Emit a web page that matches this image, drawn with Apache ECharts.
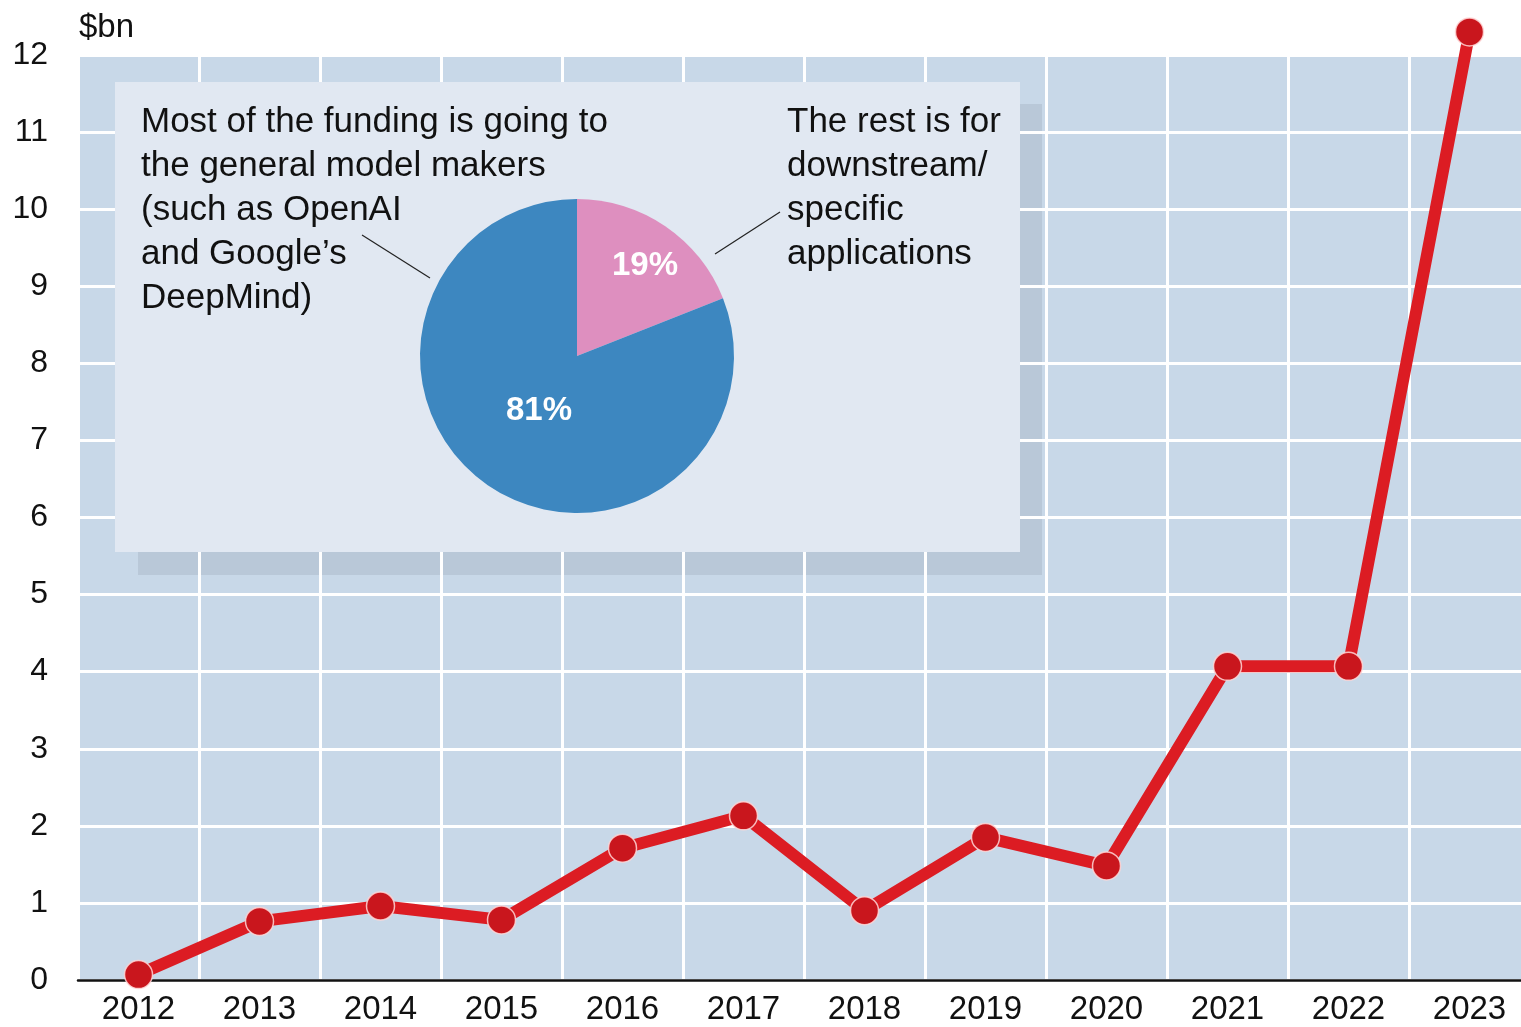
<!DOCTYPE html>
<html>
<head>
<meta charset="utf-8">
<script src="https://cdn.jsdelivr.net/npm/echarts@6/dist/echarts.min.js"></script>
<style>
  html, body { margin: 0; padding: 0; background: #fff; }
  #main { width: 1521px; height: 1027px; }
</style>
</head>
<body>
<div id="main"></div>
<script>
// years on the x axis
var years = ['2012', '2013', '2014', '2015', '2016', '2017', '2018', '2019', '2020', '2021', '2022', '2023'];
// funding, $bn
var funding = [0.07, 0.76, 0.96, 0.78, 1.71, 2.13, 0.9, 1.85, 1.48, 4.07, 4.07, 12.3];
// pie split, %
var shareNames = ['Downstream/specific applications', 'General model makers'];
var shareValues = [19, 81];
var shareColors = ['#de8fbf', '#3d87c0'];

var FONT = '"Liberation Sans", Arial, sans-serif';
var chart = echarts.init(document.getElementById('main'));

var pieCenter = [577, 356];
var pieRadius = 157;

var option = {
  backgroundColor: '#fff',
  animation: false,
  textStyle: { fontFamily: FONT },
  title: {
    text: '$bn',
    left: 74,
    top: 6,
    textStyle: { fontFamily: FONT, fontSize: 33, fontWeight: 'normal', color: '#111' }
  },
  grid: {
    left: 78,
    width: 1452, // runs a little past the right edge, like the original
    top: 55,
    bottom: 47,
    containLabel: false,
    outerBoundsMode: 'none',
    show: true,
    backgroundColor: '#c8d8e8',
    borderWidth: 0
  },
  xAxis: {
    type: 'category',
    data: years,
    z: 3,
    boundaryGap: true,
    axisLine: { show: true, lineStyle: { color: '#111', width: 2.5 } },
    axisTick: { show: false },
    axisLabel: { fontSize: 33, color: '#111', margin: 13, fontFamily: FONT },
    splitLine: { show: true, lineStyle: { color: '#fff', width: 3 } }
  },
  yAxis: {
    type: 'value',
    min: 0,
    max: 12,
    interval: 1,
    z: 3,
    axisLine: { show: false },
    axisTick: { show: false },
    axisLabel: { fontSize: 32, color: '#111', margin: 30, fontFamily: FONT },
    splitLine: { show: true, lineStyle: { color: '#fff', width: 3 } }
  },
  graphic: [
    // shadow under the inset box (below gridlines)
    { type: 'rect', z: 1, silent: true, shape: { x: 138, y: 104, width: 904, height: 471 }, style: { fill: '#b9c8d8' } },
    // inset box
    { type: 'rect', z: 4, silent: true, shape: { x: 115, y: 82, width: 905, height: 470 }, style: { fill: '#e1e8f2' } },
    {
      type: 'text', z: 6, silent: true, x: 141, y: 100,
      style: {
        text: 'Most of the funding is going to\nthe general model makers\n(such as OpenAI\nand Google\u2019s\nDeepMind)',
        font: '35px ' + FONT, lineHeight: 44, fill: '#111', verticalAlign: 'top'
      }
    },
    {
      type: 'text', z: 6, silent: true, x: 787, y: 100,
      style: {
        text: 'The rest is for\ndownstream/\nspecific\napplications',
        font: '35px ' + FONT, lineHeight: 44, fill: '#111', verticalAlign: 'top'
      }
    },
    { type: 'line', z: 6, silent: true, shape: { x1: 362, y1: 235, x2: 430, y2: 278 }, style: { stroke: '#222', lineWidth: 1.2 } },
    { type: 'line', z: 6, silent: true, shape: { x1: 715, y1: 254, x2: 780, y2: 212 }, style: { stroke: '#222', lineWidth: 1.2 } }
  ],
  series: [
    {
      type: 'pie',
      z: 5,
      center: pieCenter,
      radius: pieRadius,
      startAngle: 90,
      clockwise: true,
      silent: true,
      data: shareNames.map(function (n, i) {
        return { name: n, value: shareValues[i], itemStyle: { color: shareColors[i] } };
      }),
      label: {
        show: true,
        position: 'inside',
        formatter: '{c}%',
        color: '#fff',
        fontSize: 33,
        fontWeight: 'bold',
        fontFamily: FONT
      },
      labelLine: { show: false },
      labelLayout: function (params) {
        // push small slice label outward, big slice label nearer the centre
        if (params.dataIndex === 0) {
          return { x: pieCenter[0] + 68, y: pieCenter[1] - 90 };
        }
        return { x: pieCenter[0] - 38, y: pieCenter[1] + 55 };
      }
    },
    {
      type: 'line',
      z: 10,
      data: funding,
      clip: false,
      symbol: 'circle',
      symbolSize: 28,
      lineStyle: { color: '#dc1c23', width: 12 },
      itemStyle: { color: '#c9161d', borderColor: 'rgba(255,215,215,0.85)', borderWidth: 1.5 },
      emphasis: { disabled: true }
    }
  ]
};

chart.setOption(option);
</script>
</body>
</html>
